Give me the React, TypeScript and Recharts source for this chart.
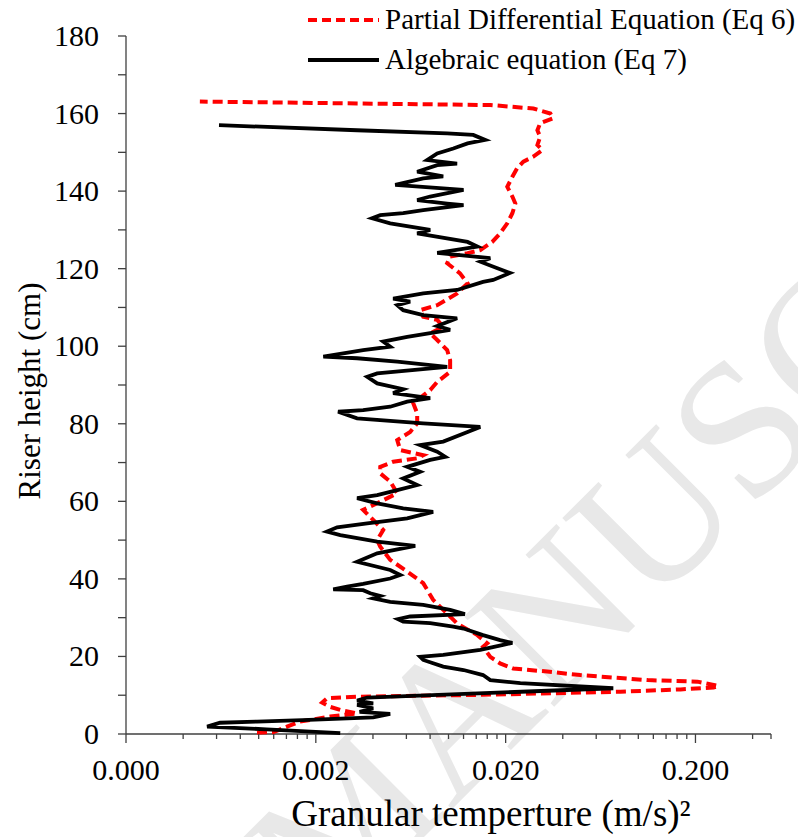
import { ScatterChart, Scatter, XAxis, YAxis, Legend } from "recharts";

// riser height (cm) and granular temperature (m/s)^2, bottom to top
const pdeHeight = [
  0.3, 0.5, 1.9, 3.2, 4.5, 5.3, 6.2, 7.0, 8.1, 9.2, 9.6, 10.1, 10.9, 11.5, 12.0, 12.4, 13.5, 13.9, 15.2, 16.1,
  16.9, 18.2, 19.9, 22.5, 23.4, 25.5, 28.5, 32.0, 34.6, 38.9, 41.9, 44.9, 48.3, 50.0, 52.6, 55.2, 57.8, 59.5,
  62.1, 65.1, 67.2, 68.9, 70.2, 71.1, 71.9, 73.2, 75.8, 77.9, 80.1, 82.7, 85.3, 88.7, 90.8, 93.4, 96.4, 99.0,
  101.6, 103.3, 105.0, 106.8, 107.6, 109.3, 110.6, 113.6, 116.2, 118.8, 121.4, 123.1, 124.0, 124.8, 126.9,
  129.1, 131.7, 134.3, 136.8, 138.6, 141.1, 143.7, 145.9, 147.6, 148.9, 150.6, 151.9, 154.0, 155.7, 157.5,
  158.8, 160.0, 161.3, 162.2, 162.6, 163.1,
];
const pdeTemp = [
  0.00098, 0.0012, 0.00141, 0.00165, 0.00238, 0.0033, 0.00269, 0.00238, 0.00216, 0.00229, 0.0033, 0.0147,
  0.0804, 0.167, 0.249, 0.264, 0.205, 0.112, 0.0495, 0.0331, 0.0219, 0.0187, 0.0166, 0.0152, 0.016, 0.0142,
  0.0111, 0.00938, 0.0083, 0.00736, 0.00606, 0.00493, 0.00437, 0.00421, 0.00453, 0.00401, 0.00355, 0.00421,
  0.00537, 0.00493, 0.00437, 0.00437, 0.00511, 0.00684, 0.00736, 0.00557, 0.00537, 0.00628, 0.00684, 0.00684,
  0.00652, 0.00801, 0.00872, 0.0102, 0.0102, 0.00984, 0.00872, 0.00801, 0.00938, 0.00872, 0.00736, 0.00709,
  0.00872, 0.0111, 0.0126, 0.0115, 0.00984, 0.0102, 0.0126, 0.0147, 0.017, 0.0187, 0.0204, 0.0217, 0.0225,
  0.0217, 0.0204, 0.0217, 0.023, 0.0248, 0.028, 0.0312, 0.0294, 0.0304, 0.0294, 0.0304, 0.0356, 0.0344, 0.028,
  0.0166, 0.0033, 0.00049,
];

const algHeight = [
  0.2, 1.2, 1.9, 2.9, 3.2, 3.6, 4.3, 5.2, 5.7, 6.6, 7.5, 7.9, 8.6, 9.4, 11.8, 13.1, 13.9, 15.2, 16.5, 17.4,
  19.1, 19.9, 20.4, 21.7, 23.0, 23.5, 24.2, 25.5, 27.2, 27.7, 28.6, 29.0, 29.6, 30.3, 30.9, 32.0, 33.3, 34.1,
  35.0, 35.6, 36.3, 37.1, 37.3, 38.0, 38.7, 40.1, 41.0, 42.3, 44.4, 46.6, 48.5, 49.6, 51.3, 52.2, 53.3, 54.3,
  55.6, 57.3, 58.2, 59.5, 60.8, 61.6, 62.9, 64.2, 65.9, 67.6, 68.9, 70.7, 71.5, 72.8, 74.5, 75.4, 77.9, 79.2,
  80.1, 81.4, 83.1, 83.5, 84.4, 85.7, 86.6, 87.9, 88.9, 90.4, 92.1, 93.0, 94.7, 96.0, 96.9, 97.3, 99.0, 99.9,
  101.2, 102.4, 104.2, 105.2, 107.2, 108.0, 109.3, 110.6, 111.5, 112.3, 113.6, 114.5, 116.6, 117.1, 118.9,
  120.1, 121.8, 122.7, 123.5, 124.1, 125.7, 126.9, 129.1, 130.0, 131.7, 133.0, 133.8, 134.3, 135.1, 136.4,
  136.8, 137.7, 138.6, 140.3, 141.6, 143.3, 143.8, 145.0, 146.7, 147.1, 148.0, 149.7, 151.0, 152.3, 153.2,
  154.5, 154.9, 155.7, 157.0,
];
const algTemp = [
  0.00269, 0.0011, 0.000535, 0.000626, 0.00098, 0.0017, 0.00401, 0.00493, 0.0034, 0.00401, 0.0033, 0.00401,
  0.0033, 0.00373, 0.0738, 0.0239, 0.0166, 0.0152, 0.012, 0.00938, 0.00736, 0.00709, 0.00938, 0.0147, 0.0194,
  0.0217, 0.0187, 0.0152, 0.012, 0.0106, 0.00801, 0.00577, 0.00543, 0.00628, 0.0122, 0.0102, 0.00736, 0.00493,
  0.00401, 0.00437, 0.00387, 0.00355, 0.00247, 0.00292, 0.00355, 0.00493, 0.00557, 0.00493, 0.0033, 0.00421,
  0.00668, 0.00421, 0.00269, 0.00229, 0.00259, 0.00373, 0.00606, 0.0083, 0.00577, 0.00421, 0.0033, 0.00421,
  0.00537, 0.00684, 0.00577, 0.00709, 0.00606, 0.00801, 0.00961, 0.00872, 0.00709, 0.00938, 0.0126, 0.0147,
  0.00736, 0.0033, 0.00262, 0.00355, 0.00493, 0.00606, 0.00801, 0.00511, 0.00577, 0.00421, 0.00373, 0.00421,
  0.00984, 0.00537, 0.0033, 0.00219, 0.00355, 0.00493, 0.00453, 0.00606, 0.0102, 0.00872, 0.0111, 0.00736,
  0.00577, 0.00537, 0.00628, 0.00511, 0.00736, 0.0111, 0.0152, 0.0172, 0.0211, 0.0181, 0.0147, 0.0166, 0.0115,
  0.00872, 0.0142, 0.0126, 0.00684, 0.00801, 0.00493, 0.00396, 0.00437, 0.00577, 0.00736, 0.012, 0.00984,
  0.00684, 0.008, 0.012, 0.00524, 0.00736, 0.00938, 0.00684, 0.00872, 0.0111, 0.00772, 0.00872, 0.0106, 0.0126,
  0.0156, 0.0135, 0.00984, 0.0033, 0.000618,
];

const xMajorTicks = [0.0002, 0.002, 0.02, 0.2];
const xMinorSteps = [2, 3, 4, 5, 6, 7, 8, 9];
const xDomain = [0.0002, 0.5];
const yTicks = [0, 10, 20, 30, 40, 50, 60, 70, 80, 90, 100, 110, 120, 130, 140, 150, 160, 170, 180];
const yLabelTicks = [0, 20, 40, 60, 80, 100, 120, 140, 160, 180];

const seriesNames = ["Partial Differential Equation (Eq 6)", "Algebraic equation (Eq 7)"];

const pdeData = pdeHeight.map((h, i) => ({ h, t: pdeTemp[i] }));
const algData = algHeight.map((h, i) => ({ h, t: algTemp[i] }));

const xTicks: number[] = [];
xMajorTicks.forEach((m) => {
  xTicks.push(m);
  xMinorSteps.forEach((k) => {
    if (m * k <= xDomain[1]) xTicks.push(m * k);
  });
});
xTicks.push(xDomain[1]);

const FONT = "'Liberation Serif', 'Times New Roman', serif";
const AXIS = "#404040";
const RED = "#ff0000";
const W = 798;
const H = 829;

const isMajor = (v: number) => xMajorTicks.some((m) => Math.abs(v - m) / m < 1e-6);

const XTick = ({ x, y, payload }: any) => {
  const major = isMajor(payload.value);
  return (
    <g>
      <line x1={x} x2={x} y1={y} y2={y + (major ? 9 : 5)} stroke={AXIS} strokeWidth={1.3} />
      {major && (
        <text x={x} y={y + 46} textAnchor="middle" fontSize={30} fontFamily={FONT} fill="#000">
          {payload.value.toFixed(3)}
        </text>
      )}
    </g>
  );
};

const YTick = ({ x, y, payload }: any) => (
  <g>
    <line x1={x - 8} x2={x} y1={y} y2={y} stroke={AXIS} strokeWidth={1.3} />
    {yLabelTicks.includes(payload.value) && (
      <text x={x - 27} y={y + 10} textAnchor="end" fontSize={30} fontFamily={FONT} fill="#000">
        {payload.value}
      </text>
    )}
  </g>
);

const LegendBox = () => (
  <svg width={W} height={80} style={{ overflow: "visible" }}>
    <line x1={300} x2={371} y1={12} y2={12} stroke={RED} strokeWidth={4} strokeDasharray="9 5" />
    <text x={377} y={21} fontSize={29} fontFamily={FONT} fill="#000">{seriesNames[0]}</text>
    <line x1={300} x2={371} y1={52} y2={52} stroke="#000" strokeWidth={4} />
    <text x={377} y={61} fontSize={29} fontFamily={FONT} fill="#000">{seriesNames[1]}</text>
  </svg>
);

const App = () => (
  <div style={{ position: "relative", width: W, height: H }}>
    <svg width={W} height={H} style={{ position: "absolute", left: 0, top: 0 }}>
      <text x={320} y={925} fontSize={195} fontFamily={FONT} fill="#e8e8e8" transform="rotate(-45 320 925)">
        MANUSCRIPT
      </text>
    </svg>
    <ScatterChart width={W} height={H} margin={{ top: 28, right: 35, left: 0, bottom: 0 }}>
      <XAxis
        type="number"
        dataKey="t"
        scale="log"
        domain={xDomain}
        allowDataOverflow
        ticks={xTicks}
        interval={0}
        tick={<XTick />}
        tickLine={false}
        tickSize={0}
        tickMargin={0}
        height={103}
        axisLine={{ stroke: AXIS, strokeWidth: 1.3 }}
        label={{
          value: "Granular temperture (m/s)²",
          content: () => (
            <text x={483} y={818} textAnchor="middle" fontSize={37} fontFamily={FONT} fill="#000">
              Granular temperture (m/s)²
            </text>
          ),
        }}
      />
      <YAxis
        type="number"
        dataKey="h"
        domain={[0, 180]}
        ticks={yTicks}
        interval={0}
        tick={<YTick />}
        tickLine={false}
        tickSize={0}
        tickMargin={0}
        width={118}
        axisLine={{ stroke: AXIS, strokeWidth: 1.3 }}
        label={{
          value: "Riser height (cm)",
          content: () => (
            <text
              x={22}
              y={383}
              textAnchor="middle"
              fontSize={31}
              fontFamily={FONT}
              fill="#000"
              transform="rotate(-90 22 383)"
              dy={10}
            >
              Riser height (cm)
            </text>
          ),
        }}
      />
      <Legend
        layout="vertical"
        align="center"
        verticalAlign="middle"
        content={() => <LegendBox />}
        wrapperStyle={{ top: 0, left: 0, width: W, height: 80 }}
      />
      <Scatter
        name={seriesNames[0]}
        data={pdeData}
        fill={RED}
        line={{ stroke: RED, strokeWidth: 4, strokeDasharray: "10 5" }}
        lineType="joint"
        shape={() => <g />}
        isAnimationActive={false}
      />
      <Scatter
        name={seriesNames[1]}
        data={algData}
        fill="#000"
        line={{ stroke: "#000", strokeWidth: 3.8 }}
        lineType="joint"
        shape={() => <g />}
        isAnimationActive={false}
      />
    </ScatterChart>
  </div>
);

export default App;
